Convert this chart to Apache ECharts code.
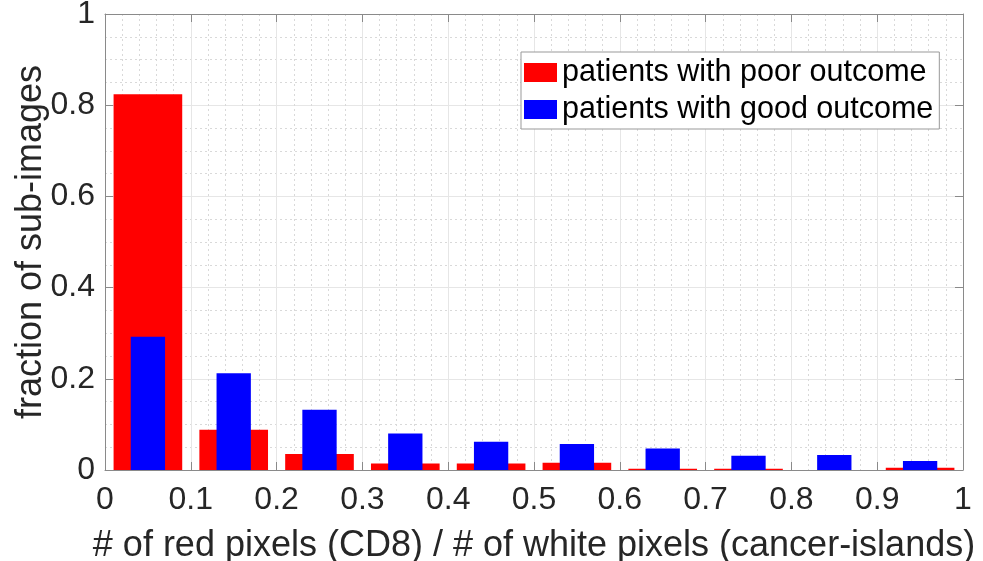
<!DOCTYPE html>
<html>
<head>
<meta charset="utf-8">
<script src="https://cdn.jsdelivr.net/npm/echarts@6/dist/echarts.min.js"></script>
<style>html,body{margin:0;padding:0;background:#fff;}#c{width:983px;height:561px;}</style>
</head>
<body>
<div id="c"></div>
<script>
// ---- data ----
var binCenters = [0.05, 0.15, 0.25, 0.35, 0.45, 0.55, 0.65, 0.75, 0.85, 0.95];
var poorOutcome = [0.824, 0.088, 0.035, 0.014, 0.014, 0.016, 0.003, 0.003, 0.0, 0.005];
var goodOutcome = [0.292, 0.212, 0.132, 0.080, 0.062, 0.057, 0.047, 0.031, 0.033, 0.020];
var seriesNames = ['patients with poor outcome', 'patients with good outcome'];
var xTitle = '# of red pixels (CD8) / # of white pixels (cancer-islands)';
var yTitle = 'fraction of sub-images';

var FONT = '"Liberation Sans", Arial, Helvetica, sans-serif';
var TXT = '#262626';
var AX = '#8a8a8a';

function pairs(vals) {
  return binCenters.map(function (c, i) { return [c, vals[i]]; });
}
function barRenderer(widthUnits) {
  return function (params, api) {
    var x = api.value(0), y = api.value(1);
    var p1 = api.coord([x - widthUnits / 2, y]);
    var p2 = api.coord([x + widthUnits / 2, 0]);
    return {
      type: 'rect',
      shape: { x: p1[0], y: p1[1], width: p2[0] - p1[0], height: p2[1] - p1[1] },
      style: api.style()
    };
  };
}

var chart = echarts.init(document.getElementById('c'), null, { renderer: 'canvas' });
var gridLine = { show: true, lineStyle: { color: '#e6e6e6', width: 1 } };
var minorLine = { show: true, lineStyle: { color: '#d9d9d9', width: 1, type: [2, 3] } };

chart.setOption({
  animation: false,
  backgroundColor: '#fff',
  textStyle: { fontFamily: FONT },
  grid: { left: 105, top: 14, right: 20, bottom: 91, containLabel: false, outerBoundsMode: 'none' },
  legend: {
    orient: 'vertical',
    left: 521, top: 52,
    padding: [5, 6, 4, 3],
    itemGap: 6,
    itemWidth: 33, itemHeight: 19,
    icon: 'rect',
    borderColor: '#999', borderWidth: 1,
    backgroundColor: '#fff',
    textStyle: { fontSize: 30.5, color: '#000', fontFamily: FONT, lineHeight: 30 },
    data: seriesNames
  },
  xAxis: [{
    type: 'value', min: 0, max: 1, interval: 0.1,
    name: xTitle, nameLocation: 'middle', nameGap: 58, nameMoveOverlap: false,
    nameTextStyle: { fontSize: 36, color: TXT, fontFamily: FONT },
    axisLine: { show: true, onZero: false, lineStyle: { color: AX, width: 1 } },
    axisTick: { show: true, inside: true, length: 8, lineStyle: { color: AX } },
    axisLabel: { fontSize: 32, color: TXT, margin: 14, fontFamily: FONT },
    splitLine: gridLine,
    minorTick: { show: false, splitNumber: 5 },
    minorSplitLine: minorLine
  }, {
    type: 'value', min: 0, max: 1, interval: 0.1, position: 'top',
    axisLine: { show: true, onZero: false, lineStyle: { color: AX, width: 1 } },
    axisTick: { show: true, inside: true, length: 8, lineStyle: { color: AX } },
    axisLabel: { show: false },
    splitLine: { show: false }
  }],
  yAxis: [{
    type: 'value', min: 0, max: 1, interval: 0.2,
    name: yTitle, nameLocation: 'middle', nameGap: 56, nameMoveOverlap: false,
    nameTextStyle: { fontSize: 36, color: TXT, fontFamily: FONT },
    axisLine: { show: true, onZero: false, lineStyle: { color: AX, width: 1 } },
    axisTick: { show: true, inside: true, length: 8, lineStyle: { color: AX } },
    axisLabel: { fontSize: 32, color: TXT, margin: 10, fontFamily: FONT },
    splitLine: gridLine,
    minorTick: { show: false, splitNumber: 4 },
    minorSplitLine: minorLine
  }, {
    type: 'value', min: 0, max: 1, interval: 0.2, position: 'right',
    axisLine: { show: true, onZero: false, lineStyle: { color: AX, width: 1 } },
    axisTick: { show: true, inside: true, length: 8, lineStyle: { color: AX } },
    axisLabel: { show: false },
    splitLine: { show: false }
  }],
  series: [{
    name: seriesNames[0], type: 'custom',
    xAxisIndex: 0, yAxisIndex: 0,
    itemStyle: { color: '#ff0000' },
    renderItem: barRenderer(0.08),
    encode: { x: 0, y: 1 },
    data: pairs(poorOutcome), z: 2
  }, {
    name: seriesNames[1], type: 'custom',
    xAxisIndex: 0, yAxisIndex: 0,
    itemStyle: { color: '#0000ff' },
    renderItem: barRenderer(0.04),
    encode: { x: 0, y: 1 },
    data: pairs(goodOutcome), z: 3
  }]
});
</script>
</body>
</html>
